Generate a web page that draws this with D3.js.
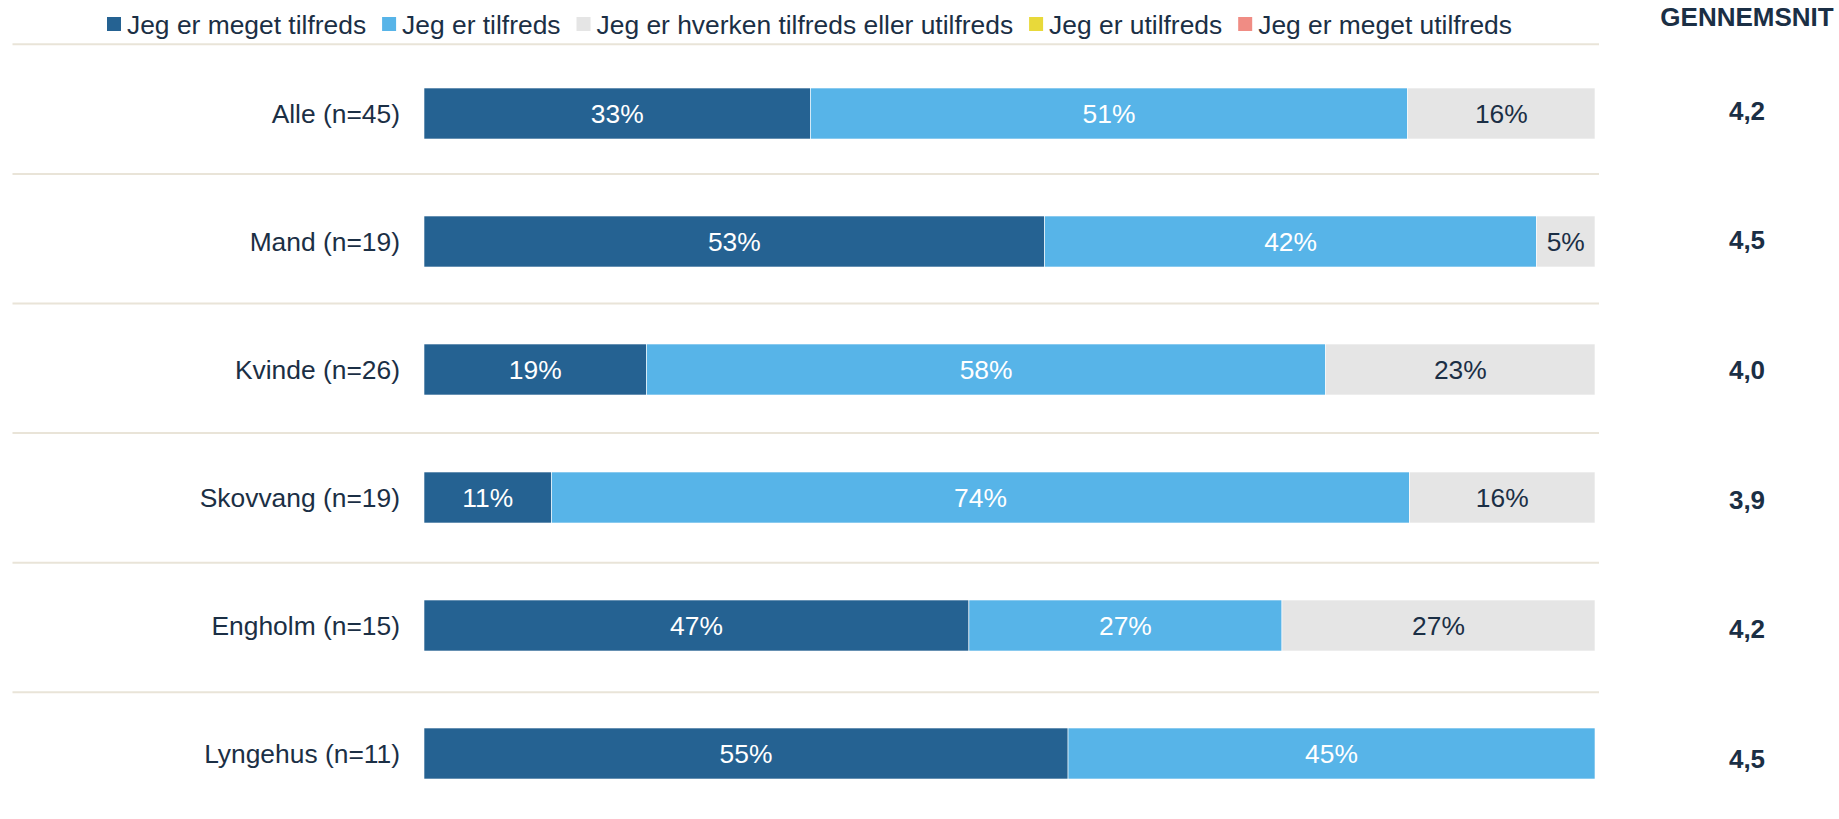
<!DOCTYPE html>
<html>
<head>
<meta charset="utf-8">
<script src="https://cdn.jsdelivr.net/npm/d3@7"></script>
<style>
  html, body { margin: 0; padding: 0; background: #ffffff; }
  svg { display: block; font-family: "Liberation Sans", Arial, sans-serif; }
</style>
</head>
<body>
<svg id="chart" width="1839" height="819"></svg>
<script>
// Satisfaction by group, 100% stacked bars with mean score column
const categories = ["Alle (n=45)", "Mand (n=19)", "Kvinde (n=26)", "Skovvang (n=19)", "Engholm (n=15)", "Lyngehus (n=11)"];
const seriesNames = ["Jeg er meget tilfreds", "Jeg er tilfreds", "Jeg er hverken tilfreds eller utilfreds", "Jeg er utilfreds", "Jeg er meget utilfreds"];
const megetTilfreds   = [33, 53, 19, 11, 47, 55];
const tilfreds        = [51, 42, 58, 74, 27, 45];
const hverken         = [16,  5, 23, 16, 27,  0];
const utilfreds       = [ 0,  0,  0,  0,  0,  0];
const megetUtilfreds  = [ 0,  0,  0,  0,  0,  0];
const gennemsnit      = [4.2, 4.5, 4.0, 3.9, 4.2, 4.5];
const averageTitle = "GENNEMSNIT";

const colors = ["#256292", "#57b4e8", "#e5e5e5", "#e8d93a", "#f08c84"];
const labelColors = ["#ffffff", "#ffffff", "#1b2f45", "#1b2f45", "#1b2f45"];
const textColor = "#1b2f45";
const gridColor = "#e9e4d8";
const fontSize = 26.4;

const series = [megetTilfreds, tilfreds, hverken, utilfreds, megetUtilfreds];
const rows = categories.map((c, i) => {
  const vals = series.map(s => s[i]);
  const total = d3.sum(vals);
  let acc = 0;
  const segs = vals.map((v, k) => {
    const s = { key: k, value: v, x0: acc / total, x1: (acc + v) / total };
    acc += v;
    return s;
  });
  return { category: c, segs, avg: gennemsnit[i] };
});

const svg = d3.select("#chart");

const x = d3.scaleLinear().domain([0, 1]).range([424, 1595]);
const y = d3.scaleBand().domain(categories).range([49.5, 817.5])
  .paddingInner(1 - 51 / 128).paddingOuter((1 - 51 / 128) / 2);
const rowBand = d3.scaleBand().domain(categories).range([44.3, 44.3 + 6 * 129.6]);

// row separators
svg.append("g").selectAll("line").data(categories).join("line")
  .attr("x1", 12.5).attr("x2", 1599)
  .attr("y1", d => rowBand(d)).attr("y2", d => rowBand(d))
  .attr("stroke", gridColor).attr("stroke-width", 2);

// legend
const legend = svg.append("g");
let lx = 107;
seriesNames.forEach((name, k) => {
  legend.append("rect").attr("x", lx).attr("y", 17).attr("width", 14).attr("height", 14)
    .attr("fill", colors[k]);
  const t = legend.append("text").attr("x", lx + 20).attr("y", 33.5)
    .attr("font-size", fontSize).attr("fill", textColor).text(name);
  lx += 20 + t.node().getComputedTextLength() + 16;
});

svg.append("text").attr("x", 1747).attr("y", 26).attr("text-anchor", "middle")
  .attr("font-size", 26).attr("font-weight", "bold").attr("fill", textColor)
  .text(averageTitle);

// bars
const rowG = svg.append("g").selectAll("g").data(rows).join("g")
  .attr("transform", d => `translate(0,${y(d.category)})`);

rowG.selectAll("rect").data(d => d.segs.filter(s => s.value > 0)).join("rect")
  .attr("x", s => x(s.x0)).attr("width", s => x(s.x1) - x(s.x0))
  .attr("y", 0).attr("height", y.bandwidth())
  .attr("fill", s => colors[s.key])
  .attr("stroke", "#ffffff").attr("stroke-width", 0.6);

rowG.selectAll("text.pct").data(d => d.segs.filter(s => s.value > 0)).join("text")
  .attr("class", "pct")
  .attr("x", s => (x(s.x0) + x(s.x1)) / 2).attr("y", y.bandwidth() / 2)
  .attr("dy", "0.36em").attr("text-anchor", "middle")
  .attr("font-size", fontSize).attr("fill", s => labelColors[s.key])
  .text(s => s.value + "%");

// category labels
svg.append("g").selectAll("text").data(rows).join("text")
  .attr("x", 400).attr("y", d => y(d.category) + y.bandwidth() / 2)
  .attr("dy", "0.36em").attr("text-anchor", "end")
  .attr("font-size", fontSize).attr("fill", textColor)
  .text(d => d.category);

// mean score column
const fmt = v => d3.format(".1f")(v).replace(".", ",");
svg.append("g").selectAll("text").data(rows).join("text")
  .attr("x", 1747).attr("y", d => rowBand(d.category) + 66.2)
  .attr("dy", "0.36em").attr("text-anchor", "middle")
  .attr("font-size", 26).attr("font-weight", "bold").attr("fill", textColor)
  .text(d => fmt(d.avg));
</script>
</body>
</html>
